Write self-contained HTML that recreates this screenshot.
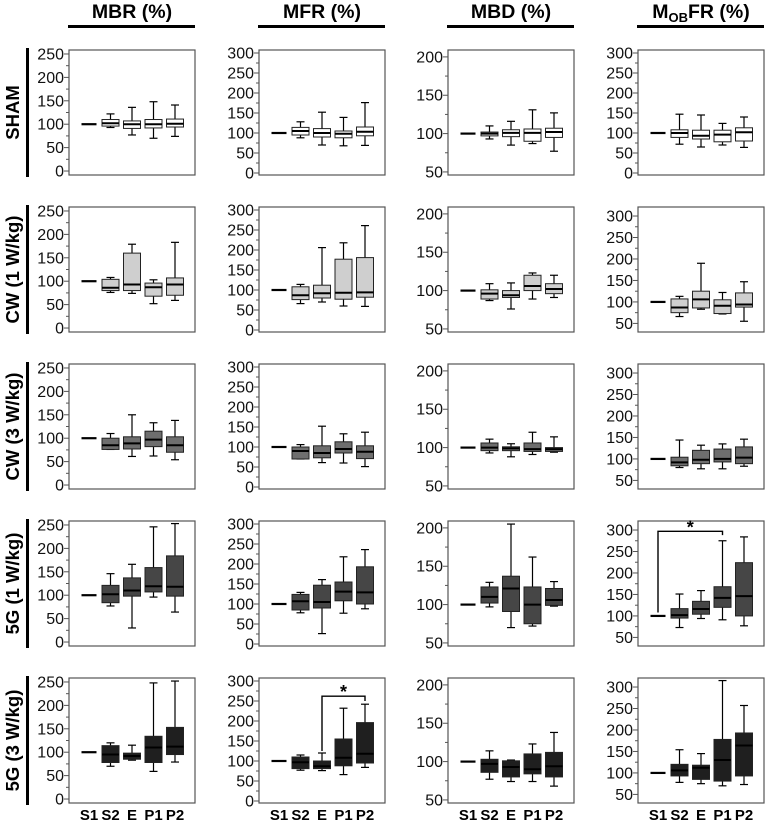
<!DOCTYPE html>
<html><head><meta charset="utf-8">
<style>
html,body{margin:0;padding:0;background:#fff;}
svg{display:block;font-family:"Liberation Sans",Arial,sans-serif;}
</style></head>
<body>
<svg id="chart" width="767" height="824" viewBox="0 0 767 824"></svg>
<script>
const categories = ["S1","S2","E","P1","P2"];
const colTitles = ["MBR (%)","MFR (%)","MBD (%)","MOBFR (%)"];
const rowLabels = ["SHAM","CW (1 W/kg)","CW (3 W/kg)","5G (1 W/kg)","5G (3 W/kg)"];
const rowFills = ["#ffffff","#cfcfcf","#6e6e6e","#464646","#1f1f1f"];
// [min,q1,median,q3,max] for S2,E,P1,P2 (S1 is fixed at 100)
const shamMBR = [[93,96,102,110,122],[77,91,100,107,136],[70,92,100,110,148],[74,94,101,111,141]];
const shamMFR = [[88,95,105,114,128],[70,90,100,111,152],[68,88,98,105,139],[69,93,103,115,176]];
const shamMBD = [[93,97,100,102,110],[85,96,101,105,116],[87,90,101,106,131],[77,95,102,107,127]];
const shamMOBFR = [[72,89,100,108,147],[65,85,93,107,145],[70,78,96,107,124],[64,80,102,113,140]];
const cw1MBR = [[76,80,86,104,108],[74,80,93,160,179],[52,68,87,96,103],[59,70,93,107,183]];
const cw1MFR = [[66,76,87,108,114],[70,80,92,112,206],[60,77,93,177,218],[59,82,94,181,261]];
const cw1MBD = [[87,89,96,101,109],[76,91,94,100,110],[89,100,106,120,123],[91,96,102,109,120]];
const cw1MOBFR = [[66,75,87,107,113],[83,86,106,125,190],[72,73,91,105,122],[55,88,94,121,147]];
const cw3MBR = [[76,76,85,100,110],[61,77,89,103,150],[62,82,97,115,133],[54,70,85,103,138]];
const cw3MFR = [[70,70,90,100,106],[61,73,85,103,152],[60,85,95,113,133],[51,71,88,103,137]];
const cw3MBD = [[93,96,100,106,111],[88,96,99,101,105],[91,95,98,106,120],[94,95,98,100,114]];
const cw3MOBFR = [[80,84,92,104,144],[77,89,98,120,132],[77,93,100,123,135],[83,89,103,128,146]];
const g1MBR = [[77,84,102,121,146],[30,98,110,137,166],[96,107,119,159,246],[64,98,118,184,253]];
const g1MFR = [[78,85,107,124,129],[26,90,105,147,161],[77,108,131,155,218],[88,100,129,193,236]];
const g1MBD = [[97,102,110,123,129],[70,91,121,137,205],[72,75,100,123,162],[98,99,106,121,130]];
const g1MOBFR = [[73,95,102,117,151],[94,104,116,134,159],[91,120,142,168,275],[77,100,146,224,284]];
const g3MBR = [[70,78,95,114,120],[83,85,92,98,115],[59,78,110,134,248],[79,95,112,153,252]];
const g3MFR = [[77,81,97,110,115],[76,81,87,100,120],[66,88,108,155,232],[84,95,118,196,242]];
const g3MBD = [[77,86,97,103,114],[74,80,93,101,102],[74,84,90,110,123],[68,80,94,112,138]];
const g3MOBFR = [[78,93,106,120,154],[75,85,112,118,145],[70,81,130,178,315],[73,93,164,193,257]];
const baseline = [100,100,100,100,100];
// significance brackets: [row,col,fromIdx,toIdx,topValue,leftFoot,rightFoot]
const brackets = [[3,3,0,3,297,108,288],[4,1,2,4,262,125,250]];
const ticks0_250 = [0,50,100,150,200,250];
const ticks0_300 = [0,50,100,150,200,250,300];
const ticks50_200 = [50,100,150,200];
const ticks50_300 = [50,100,150,200,250,300];

const data = [
 [shamMBR,shamMFR,shamMBD,shamMOBFR],
 [cw1MBR,cw1MFR,cw1MBD,cw1MOBFR],
 [cw3MBR,cw3MFR,cw3MBD,cw3MOBFR],
 [g1MBR,g1MFR,g1MBD,g1MOBFR],
 [g3MBR,g3MFR,g3MBD,g3MOBFR]
];
const colLeft=[69,259,448,638], rowTop=[50,207,364,521,678], PW=126, PH=125;
const NS="http://www.w3.org/2000/svg";
const svg=document.getElementById('chart');
function mk(tag,attrs,parent){const e=document.createElementNS(NS,tag);for(const k in attrs)e.setAttribute(k,attrs[k]);(parent||svg).appendChild(e);return e;}

function axisCfg(r,c){
  if(c===0) return {ticks:ticks0_250,lo:-8.5,hi:258.5,minor:25};
  if(c===1) return {ticks:ticks0_300,lo:-5,hi:307.5,minor:25};
  if(c===2) return {ticks:ticks50_200,lo:46,hi:209,minor:25};
  if(r===0) return {ticks:ticks0_300,lo:-5,hi:307.5,minor:25};
  return {ticks:ticks50_300,lo:30,hi:321,minor:25};
}

colTitles.forEach((t,c)=>{
  const g=mk('g',{});
  
  
  const tx=mk('text',{x:colLeft[c]+PW/2,y:18,'text-anchor':'middle','font-size':'19.5','font-weight':'bold'},g);
  if(c===3){
    tx.appendChild(document.createTextNode('M'));
    const s=mk('tspan',{'font-size':'13',dy:'4'},tx);s.textContent='OB';
    const s2=mk('tspan',{dy:'-4'},tx);s2.textContent='FR (%)';
  } else tx.textContent=t;
  mk('rect',{x:colLeft[c]-1,y:25,width:PW+1,height:3,fill:'#000'},g);
});
rowLabels.forEach((t,r)=>{
  const g=mk('g',{});
  
  
  const cy=rowTop[r]+PH/2;
  const tx=mk('text',{x:0,y:0,transform:`translate(19,${cy}) rotate(-90)`,'text-anchor':'middle','font-size':'18.5','font-weight':'bold'},g);
  tx.textContent=t;
  mk('rect',{x:26,y:rowTop[r]-2,width:3,height:PH+4,fill:'#000'},g);
});

for(let r=0;r<5;r++)for(let c=0;c<4;c++){
  const L=colLeft[c],T=rowTop[r];
  const cfg=axisCfg(r,c);
  const y=v=>T+PH-(v-cfg.lo)/(cfg.hi-cfg.lo)*PH;
  const x=i=>L+20+i*21.5;
  const g=mk('g',{});
  
  
  mk('rect',{x:L,y:T,width:PW,height:PH,fill:'none',stroke:'#555','stroke-width':1.2},g);
  const t0=cfg.ticks[0],t1=cfg.ticks[cfg.ticks.length-1];
  for(let v=t0; v<=t1; v+=cfg.minor){
    const major=cfg.ticks.indexOf(v)>=0;
    mk('line',{x1:L-(major?5:3),x2:L,y1:y(v),y2:y(v),stroke:'#555','stroke-width':1},g);
  }
  cfg.ticks.forEach(v=>{
    const lb=mk('text',{x:L-5,y:y(v)+5.5,'text-anchor':'end','font-size':'16',fill:'#111'},g);
    
    
    lb.textContent=v;
  });
  const bl=mk('line',{x1:x(0)-7.5,x2:x(0)+7.5,y1:y(baseline[c]),y2:y(baseline[c]),stroke:'#000','stroke-width':2.2},g);
  
  
  data[r][c].forEach((d,k)=>{
    const i=k+1,cx=x(i);
    const bg=mk('g',{},g);
    
    
    mk('line',{x1:cx,x2:cx,y1:y(d[4]),y2:y(d[0]),stroke:'#000','stroke-width':1.2},bg);
    mk('line',{x1:cx-4,x2:cx+4,y1:y(d[4]),y2:y(d[4]),stroke:'#000','stroke-width':1.2},bg);
    mk('line',{x1:cx-4,x2:cx+4,y1:y(d[0]),y2:y(d[0]),stroke:'#000','stroke-width':1.2},bg);
    mk('rect',{x:cx-8.5,y:y(d[3]),width:17,height:Math.max(1,y(d[1])-y(d[3])),fill:rowFills[r],stroke:'#222','stroke-width':1},bg);
    mk('line',{x1:cx-8.5,x2:cx+8.5,y1:y(d[2]),y2:y(d[2]),stroke:'#000','stroke-width':2},bg);
  });
  brackets.forEach(b=>{
    if(b[0]!==r||b[1]!==c)return;
    const bg=mk('g',{},g);
    
    
    mk('polyline',{points:`${x(b[2])},${y(b[5])} ${x(b[2])},${y(b[4])} ${x(b[3])},${y(b[4])} ${x(b[3])},${y(b[6])}`,fill:'none',stroke:'#000','stroke-width':1.4},bg);
    const st=mk('text',{x:(x(b[2])+x(b[3]))/2,y:y(b[4])+2,'text-anchor':'middle','font-size':'18','font-weight':'bold'},bg);
    st.textContent='*';
  });
  if(r===4){
    categories.forEach((cat,i)=>{
      const lb=mk('text',{x:x(i),y:T+PH+17,'text-anchor':'middle','font-size':'15','font-weight':'bold'},g);
      
      
      lb.textContent=cat;
    });
  }
}
</script>
</body></html>
